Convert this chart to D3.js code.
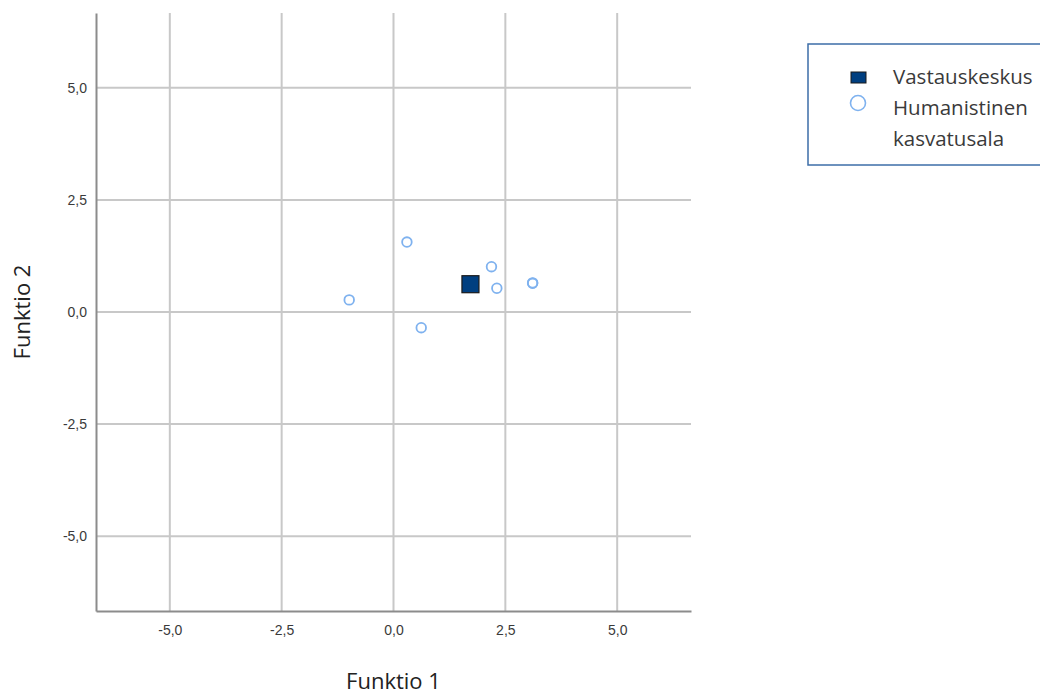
<!DOCTYPE html>
<html>
<head>
<meta charset="utf-8">
<script src="https://cdn.jsdelivr.net/npm/d3@7"></script>
<style>
  body { margin: 0; background: #fff; }
  svg { display: block; }
</style>
</head>
<body>
<svg width="1040" height="695"></svg>
<script>
// group centroid (Vastauskeskus)
const centroidX = [1.72];
const centroidY = [0.62];

// cases (Humanistinen kasvatusala)
const caseX = [0.30, 2.19, 2.31, 3.11, 3.11, -0.99, 0.62];
const caseY = [1.56, 1.01, 0.53, 0.64, 0.65, 0.27, -0.35];

const tickValues = [-5, -2.5, 0, 2.5, 5];
const legendLabels = ["Vastauskeskus", "Humanistinen kasvatusala"];

const svg = d3.select("svg");
const fmt = v => d3.format(".1f")(v).replace(".", ",").replace("−", "-");

const x = d3.scaleLinear().domain([-6.65, 6.65]).range([96, 691]);
const y = d3.scaleLinear().domain([-6.67, 6.67]).range([611, 13]);

// grid
const grid = svg.append("g");
grid.selectAll(".vx")
    .data(tickValues)
    .join("line")
    .attr("x1", d => x(d)).attr("x2", d => x(d))
    .attr("y1", y.range()[1]).attr("y2", y.range()[0])
    .attr("stroke", "#c8c8c8").attr("stroke-width", 2);
grid.selectAll(".hy")
    .data(tickValues)
    .join("line")
    .attr("class", "hy")
    .attr("x1", x.range()[0]).attr("x2", x.range()[1])
    .attr("y1", d => y(d)).attr("y2", d => y(d))
    .attr("stroke", "#c8c8c8").attr("stroke-width", 2);

// axes
const xAxis = svg.append("g")
    .attr("transform", `translate(0,${y.range()[0]})`)
    .call(d3.axisBottom(x).tickValues(tickValues).tickFormat(fmt).tickSize(0).tickPadding(14));
const yAxis = svg.append("g")
    .attr("transform", `translate(${x.range()[0]},0)`)
    .call(d3.axisLeft(y).tickValues(tickValues).tickFormat(fmt).tickSize(0).tickPadding(9));

[xAxis, yAxis].forEach(a => {
    a.select(".domain").attr("stroke", "#8c8c8c").attr("stroke-width", 2);
    a.selectAll("text")
        .attr("font-family", "Liberation Sans, Arial, sans-serif")
        .attr("font-size", 14)
        .attr("fill", "#3a3a3a");
});

// cases
svg.append("g")
    .selectAll("circle")
    .data(caseX.map((v, i) => [v, caseY[i]]))
    .join("circle")
    .attr("cx", d => x(d[0]))
    .attr("cy", d => y(d[1]))
    .attr("r", 4.8)
    .attr("fill", "none")
    .attr("stroke", "#7fb2ef")
    .attr("stroke-width", 1.8);

// centroid
const sq = 17;
svg.append("g")
    .selectAll("rect")
    .data(centroidX.map((v, i) => [v, centroidY[i]]))
    .join("rect")
    .attr("x", d => x(d[0]) - sq / 2)
    .attr("y", d => y(d[1]) - sq / 2)
    .attr("width", sq)
    .attr("height", sq)
    .attr("fill", "#003f80")
    .attr("stroke", "#1a1a1a")
    .attr("stroke-width", 1.2);

// axis titles
svg.append("text")
    .attr("x", x(0))
    .attr("y", 689)
    .attr("text-anchor", "middle")
    .attr("font-family", "Open Sans, sans-serif")
    .attr("font-size", 22)
    .attr("fill", "#222")
    .text("Funktio 1");
svg.append("text")
    .attr("transform", `translate(30,${y(0)}) rotate(-90)`)
    .attr("text-anchor", "middle")
    .attr("font-family", "Open Sans, sans-serif")
    .attr("font-size", 22)
    .attr("fill", "#222")
    .text("Funktio 2");

// legend
const lg = svg.append("g");
lg.append("rect")
    .attr("x", 808).attr("y", 44)
    .attr("width", 260).attr("height", 121)
    .attr("fill", "#fff")
    .attr("stroke", "#3d6ea8")
    .attr("stroke-width", 1.5);
lg.append("rect")
    .attr("x", 851).attr("y", 72)
    .attr("width", 15).attr("height", 11)
    .attr("fill", "#003f80")
    .attr("stroke", "#1a1a1a")
    .attr("stroke-width", 1);
lg.append("circle")
    .attr("cx", 858).attr("cy", 103)
    .attr("r", 7.5)
    .attr("fill", "none")
    .attr("stroke", "#7fb2ef")
    .attr("stroke-width", 1.6);
const lt = lg.append("g")
    .attr("font-family", "Open Sans, sans-serif")
    .attr("font-size", 20.5)
    .attr("fill", "#3a3a3a");
lt.append("text").attr("x", 893).attr("y", 84).text(legendLabels[0]);
const words = legendLabels[1].split(" ");
lt.append("text").attr("x", 893).attr("y", 115).text(words[0]);
lt.append("text").attr("x", 893).attr("y", 146).text(words[1]);
</script>
</body>
</html>
